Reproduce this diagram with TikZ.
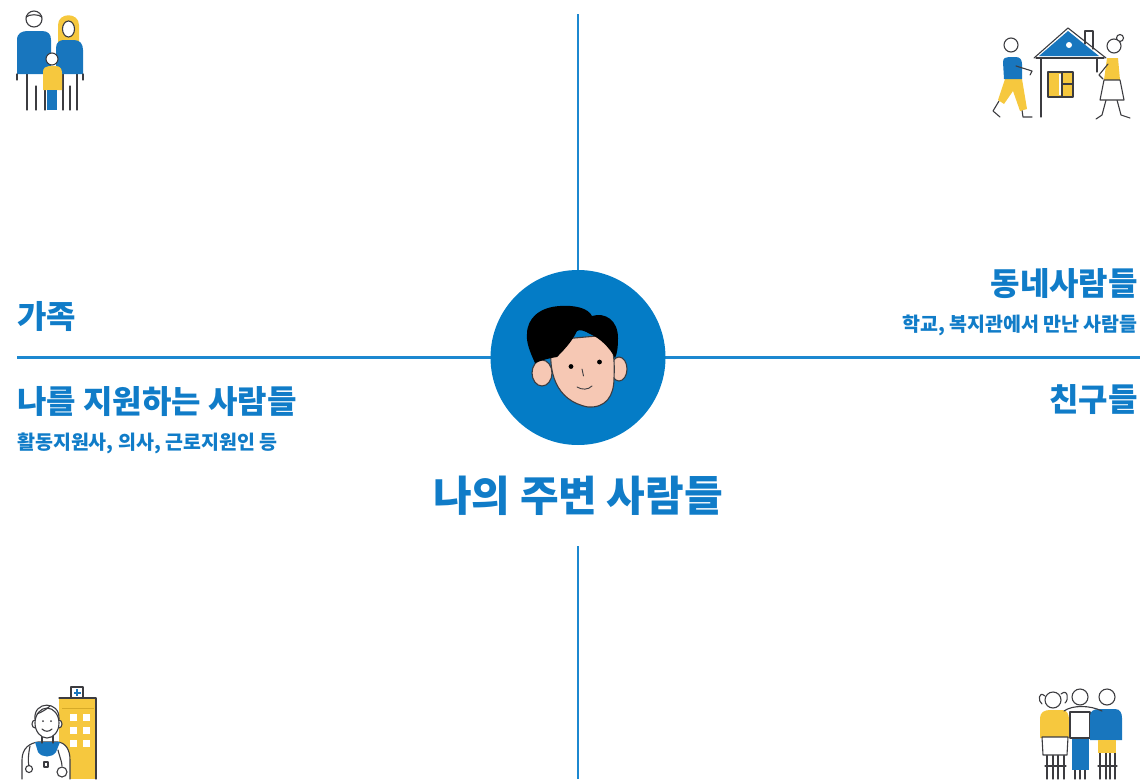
\documentclass[tikz,border=0pt]{standalone}
\usepackage{fontspec}
\setmainfont{Noto Sans CJK KR}
\usepackage{tikz}
\definecolor{linkblue}{RGB}{28,136,208}
\definecolor{discblue}{RGB}{4,124,198}
\definecolor{txtblue}{RGB}{16,124,200}
\definecolor{iconblue}{RGB}{24,118,190}
\definecolor{iconyellow}{RGB}{246,200,62}
\definecolor{darkyellow}{RGB}{214,170,40}
\definecolor{outl}{RGB}{60,60,64}
\definecolor{skin}{RGB}{246,200,180}

\begin{document}
\begin{tikzpicture}[x=1pt, y=-1pt,
	ol/.style={draw=outl, line width=1.1pt, line cap=round, line join=round},
	axis/.style={linkblue, line width=2.6pt},
	head/.style={font=\fontsize{32}{36}\selectfont\bfseries, text=txtblue, inner sep=0pt},
	sub/.style={font=\fontsize{19.5}{23}\selectfont\bfseries, text=txtblue, inner sep=0pt}]
	\useasboundingbox (0,0) rectangle (1140,779);

	\coordinate (lft) at (17,357.5);
	\coordinate (rgt) at (1140,357.5);
	\coordinate (top) at (578,14);
	\coordinate (mid) at (578,546);
	\coordinate (bot) at (578,779);
	\draw [axis] (lft) -- (rgt);
	\node [circle, fill=discblue, minimum size=175pt, inner sep=0pt] (me) at (578,357.5) {};
	\draw [axis] (top) -- (me.north);
	\draw [axis] (mid) -- (bot);

	% face
	\draw [ol, fill=skin] (542,373) ellipse (10pt and 13pt);
	\draw [ol, fill=skin] (619,369) ellipse (8pt and 12pt);
	\draw [ol, fill=skin] (552,340) .. controls (547,372) and (556,401) .. (588,407) .. controls (606,408) and (614,396) .. (614,378) .. controls (615,360) and (613,345) .. (608,335) -- cycle;
	\fill [black] (535,363) .. controls (530,352) and (526,342) .. (527,334) .. controls (527,318) and (540,307) .. (560,306) .. controls (575,305) and (588,308) .. (592,316) .. controls (605,312) and (618,320) .. (618,338) .. controls (618,348) and (617,354) .. (615,358) .. controls (610,348) and (600,338) .. (590,334) .. controls (585,331) and (580,329) .. (577,331) .. controls (572,342) and (562,352) .. (557,357) .. controls (550,358) and (542,360) .. (535,363) -- cycle;
	\fill [black] (571,366.5) circle (2.4pt);
	\fill [black] (599.5,362) circle (2.4pt);
	\draw [ol, line width=0.9pt] (582,369) -- (583.5,376);
	\draw [ol, line width=0.9pt] (577,387) .. controls (582,390) and (588,390) .. (592,386);

	% texts
	\node [head, anchor=base west] (fam) at (17,328) {가족};
	\node [head, anchor=base west] (sup) at (17,413) {나를 지원하는 사람들};
	\node [sub, anchor=base west] (supx) at (17,449) {활동지원사, 의사, 근로지원인 등};
	\node [head, anchor=base east] (ngb) at (1138,295) {동네사람들};
	\node [sub, anchor=base east] (ngbx) at (1138,331) {학교, 복지관에서 만난 사람들};
	\node [head, anchor=base east] (frd) at (1138,411) {친구들};
	\node [head, font=\fontsize{42}{46}\selectfont\bfseries, anchor=base] (ttl) at (578,511) {나의 주변 사람들};

	% family
	\draw [ol] (27,72) -- (27,110);
	\draw [ol] (45,72) -- (45,110);
	\draw [ol] (36,86) -- (36,110);
	\fill [iconblue] (17,74) -- (17,40) .. controls (17,33) and (22,31) .. (28,31) -- (42,31) .. controls (48,31) and (51,34) .. (51,40) -- (51,74) -- cycle;
	\draw [ol] (17,74) -- (17,80);
	\draw [ol] (51,74) -- (51,80);
	\draw [ol, fill=white] (34,19) circle (8pt);
	\draw [ol] (26,17) .. controls (30,14) and (38,14) .. (42,17);
	\draw [ol] (63,72) -- (63,110);
	\draw [ol] (77,72) -- (77,110);
	\draw [ol] (70,86) -- (70,110);
	\fill [iconyellow] (58,42) -- (58,25) .. controls (58,12) and (79,12) .. (79,25) -- (79,42) -- cycle;
	\fill [iconblue] (56,74) -- (56,48) .. controls (56,42) and (60,40) .. (64,40) -- (74,40) .. controls (80,40) and (83,44) .. (83,50) -- (83,74) -- cycle;
	\draw [ol, fill=white] (68.5,29) ellipse (6pt and 8pt);
	\draw [ol] (83,74) -- (83,80);
	\fill [iconyellow] (43,90) -- (43,72) .. controls (43,68) and (46,66) .. (49,66) -- (56,66) .. controls (60,66) and (62,69) .. (62,73) -- (62,90) -- cycle;
	\fill [iconblue] (47,90) rectangle (57,110);
	\draw [ol, fill=white] (52,59) circle (6pt);

	% house
	\draw [ol] (999,101) -- (993,111) -- (1000,117);
	\draw [ol] (1022,110) -- (1023,117) -- (1032,117);
	\fill [iconyellow] (1005,79) -- (1022,79) -- (1027,109) -- (1020,111) -- (1013,91) -- (1004,104) -- (998,100) -- cycle;
	\fill [iconblue] (1004,79) -- (1003,62) .. controls (1003,58) and (1006,57) .. (1009,57) -- (1016,57) .. controls (1020,57) and (1022,60) .. (1022,64) -- (1022,79) -- cycle;
	\draw [ol] (1016,66) -- (1032,71) -- (1030,75);
	\draw [ol, fill=white] (1011,45) circle (7pt);
	\draw [ol, fill=white] (1085,44) -- (1085,31) -- (1093,31) -- (1093,49);
	\fill [iconblue] (1068,31) -- (1039,56) -- (1099,56) -- cycle;
	\draw [ol] (1034,58) -- (1068,28) -- (1106,58);
	\draw [ol] (1036,58) -- (1104,58);
	\fill [white] (1069,45) circle (3pt);
	\draw [ol] (1041,58) -- (1041,117);
	\draw [ol] (1097,58) -- (1097,72);
	\draw [ol, fill=iconyellow] (1048,72) rectangle (1073,97);
	\fill [white] (1059,74) rectangle (1062,95);
	\draw [ol] (1062,73) -- (1062,96);
	\draw [ol] (1062,84) -- (1072,84);
	\draw [ol] (1106,100) -- (1102,115) -- (1096,119);
	\draw [ol] (1117,100) -- (1121,115) -- (1130,118);
	\fill [iconyellow] (1107,58) -- (1118,58) -- (1120,80) -- (1104,80) -- cycle;
	\draw [ol] (1108,64) -- (1099,75) -- (1103,79);
	\draw [ol, fill=white] (1104,80) -- (1120,80) -- (1124,100) -- (1100,100) -- cycle;
	\draw [ol, fill=white] (1120,38) circle (3.5pt);
	\draw [ol, fill=white] (1114,46) circle (7pt);

	% doctor
	\fill [iconyellow] (59,698) rectangle (96,779);
	\draw [ol] (59,698) -- (96,698) -- (96,779);
	\draw [darkyellow, line width=1pt] (62,708) -- (94,708);
	\draw [ol, fill=white] (71,687) rectangle (83,698);
	\fill [iconblue] (76,689) rectangle (78,696);
	\fill [iconblue] (73.5,691.5) rectangle (80.5,693.5);
	\foreach \x in {70,83}
		\foreach \y in {714,727,740}
			\fill [white] (\x,\y) rectangle +(7,7);
	\draw [ol, fill=white] (22,779) -- (22,760) .. controls (22,748) and (30,743) .. (38,742) -- (58,742) .. controls (66,743) and (70,750) .. (70,760) -- (70,779);
	\fill [iconblue] (35,742) -- (60,742) -- (56,752) .. controls (52,758) and (42,758) .. (38,752) -- cycle;
	\draw [ol] (42,736) -- (42,743);
	\draw [ol] (53,736) -- (53,743);
	\draw [ol, fill=white] (35,724) ellipse (3pt and 4pt);
	\draw [ol, fill=white] (59,724) ellipse (3pt and 4pt);
	\draw [ol, fill=white] (47,723) ellipse (12pt and 15pt);
	\draw [ol] (35,719) .. controls (33,701) and (60,700) .. (59,719);
	\draw [ol] (37,714) .. controls (42,712) and (47,709) .. (50,706);
	\fill [outl] (43,721) circle (1pt);
	\fill [outl] (51,721) circle (1pt);
	\draw [ol] (42,729) .. controls (45,732) and (49,732) .. (52,729);
	\draw [ol] (30,746) .. controls (28,756) and (28,762) .. (29,766);
	\draw [ol, fill=white] (29,769) circle (3.5pt);
	\draw [ol] (58,750) .. controls (60,758) and (62,762) .. (62,766);
	\draw [ol, fill=white] (62,772) circle (5pt);
	\draw [ol] (44,762) rectangle (48,767);

	% friends
	\draw [ol] (1047,755) -- (1047,779);
	\draw [ol] (1053,755) -- (1053,779);
	\draw [ol] (1058,755) -- (1058,779);
	\draw [ol] (1064,755) -- (1064,779);
	\draw [ol] (1045,766) -- (1066,766);
	\fill [iconyellow] (1040,738) -- (1040,718) .. controls (1040,712) and (1045,710) .. (1050,710) -- (1062,710) .. controls (1067,710) and (1069,714) .. (1069,720) -- (1069,738) -- cycle;
	\draw [ol, fill=white] (1042,737) -- (1068,737) -- (1067,755) -- (1043,755) -- cycle;
	\draw [ol] (1045,696) .. controls (1038,690) and (1038,702) .. (1042,704);
	\draw [ol] (1061,694) .. controls (1068,688) and (1069,700) .. (1065,703);
	\draw [ol, fill=white] (1053,700) circle (8pt);
	\draw [ol] (1075,770) -- (1075,779);
	\draw [ol] (1080,770) -- (1080,779);
	\draw [ol] (1085,770) -- (1085,779);
	\fill [iconblue] (1072,737) rectangle (1089,770);
	\draw [ol, fill=white] (1070,738) -- (1070,712) -- (1090,712) -- (1090,738) -- cycle;
	\draw [ol] (1100,753) -- (1100,779);
	\draw [ol] (1106,753) -- (1106,779);
	\draw [ol] (1110,753) -- (1110,779);
	\draw [ol] (1115,753) -- (1115,779);
	\draw [ol] (1098,766) -- (1117,766);
	\fill [iconblue] (1090,740) -- (1090,716) .. controls (1090,711) and (1094,709) .. (1099,709) -- (1115,709) .. controls (1120,709) and (1122,713) .. (1122,718) -- (1122,740) -- cycle;
	\fill [iconyellow] (1098,740) rectangle (1116,753);
	\draw [ol] (1064,711) .. controls (1072,705) and (1090,705) .. (1102,711);
	\draw [ol, fill=white] (1080,697) circle (8pt);
	\draw [ol, fill=white] (1107,697) circle (8pt);
\end{tikzpicture}
\end{document}
